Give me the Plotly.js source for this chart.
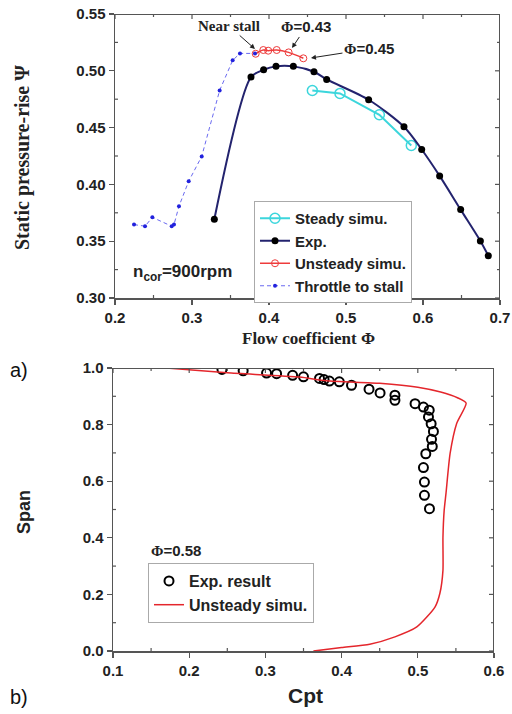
<!DOCTYPE html>
<html>
<head>
<meta charset="utf-8">
<script src="https://cdn.plot.ly/plotly-3.0.1.min.js"></script>
<style>html,body{margin:0;padding:0;background:#fff;}#chart{width:512px;height:714px;}</style>
</head>
<body>
<div id="chart"></div>
<script>
// ---- Data: plot a) ----
const throttlePhi = [0.2247, 0.239, 0.2485, 0.2736, 0.2766, 0.2831, 0.2957, 0.3126, 0.3359, 0.3528, 0.3623, 0.3818];
const throttlePsi = [0.3646, 0.3632, 0.371, 0.3632, 0.3646, 0.3808, 0.4028, 0.4246, 0.4827, 0.5092, 0.5153, 0.5153];

const expPhi = [0.329, 0.3766, 0.393, 0.4091, 0.4316, 0.4584, 0.4749, 0.5294, 0.5753, 0.5983, 0.6216, 0.6489, 0.6745, 0.6848];
const expPsi = [0.3693, 0.4945, 0.5009, 0.5039, 0.5039, 0.4992, 0.4924, 0.4745, 0.4507, 0.4307, 0.4075, 0.3778, 0.3502, 0.3373];

const steadyPhi = [0.4563, 0.4922, 0.5433, 0.5848];
const steadyPsi = [0.4827, 0.4801, 0.4613, 0.4342];

const unsteadyPhi = [0.3827, 0.3926, 0.399, 0.41, 0.4255, 0.4446];
const unsteadyPsi = [0.515, 0.5183, 0.5177, 0.5183, 0.5162, 0.511];

// ---- Data: plot b) ----
const expCpt = [0.243, 0.2708, 0.3015, 0.3147, 0.3357, 0.35, 0.371, 0.377, 0.384, 0.397, 0.413, 0.436, 0.4505, 0.470, 0.470, 0.4964, 0.5074, 0.515, 0.514, 0.5175, 0.5205, 0.518, 0.519, 0.5105, 0.5074, 0.5087, 0.5087, 0.5153];
const expSpan = [0.995, 0.99, 0.982, 0.980, 0.974, 0.969, 0.963, 0.959, 0.954, 0.951, 0.939, 0.925, 0.912, 0.904, 0.886, 0.874, 0.862, 0.851, 0.827, 0.803, 0.776, 0.748, 0.723, 0.697, 0.648, 0.597, 0.550, 0.503];

const simCpt = [0.17, 0.25, 0.345, 0.38, 0.45, 0.50, 0.53, 0.552, 0.5634, 0.551, 0.5424, 0.537, 0.5346, 0.533, 0.533, 0.529, 0.5225, 0.4987, 0.47, 0.437, 0.40, 0.363];
const simSpan = [1.0, 0.983, 0.968, 0.955, 0.946, 0.932, 0.915, 0.895, 0.876, 0.804, 0.698, 0.557, 0.497, 0.40, 0.285, 0.204, 0.155, 0.085, 0.05, 0.024, 0.012, 0.0];

const xTicksA = [0.2, 0.3, 0.4, 0.5, 0.6, 0.7];
const yTicksA = [0.30, 0.35, 0.40, 0.45, 0.50, 0.55];
const xTicksB = [0.1, 0.2, 0.3, 0.4, 0.5, 0.6];
const yTicksB = [0.0, 0.2, 0.4, 0.6, 0.8, 1.0];

// annotation targets (flow coefficient, pressure rise)
const nearStall = [0.3818, 0.5192];
const phi043 = [0.4299, 0.5201];
const phi045 = [0.4545, 0.5113];

const SANS = 'Liberation Sans, Arial, sans-serif';
const SERIF = 'Liberation Serif, Times New Roman, serif';
const AXC = '#555555';

const first = a => a[0], last = a => a[a.length - 1];

// top/right frame edges plus tick marks, built from the tick arrays and drawn through the axes
function frameTraces(xa, ya, xt, yt, wPx, hPx) {
  const x0 = first(xt), x1 = last(xt), y0 = first(yt), y1 = last(yt);
  const dx = (x1 - x0) / wPx, dy = (y1 - y0) / hPx;
  const fx = [], fy = [];
  const seg = (ax, ay, bx, by) => { fx.push(ax, bx, null); fy.push(ay, by, null); };
  xt.forEach(v => seg(v, y1, v, y1 - 5 * dy));
  yt.forEach(v => seg(x1, v, x1 - 5 * dx, v));
  for (let i = 0; i + 1 < xt.length; i++) {
    const m = (xt[i] + xt[i + 1]) / 2;
    seg(m, y1, m, y1 - 3 * dy);
    seg(m, y0, m, y0 + 3 * dy);
  }
  for (let i = 0; i + 1 < yt.length; i++) {
    const m = (yt[i] + yt[i + 1]) / 2;
    seg(x1, m, x1 - 3 * dx, m);
    seg(x0, m, x0 + 3 * dx, m);
  }
  return [
    {x: [x0, x1, x1], y: [y1, y1, y0], xaxis: xa, yaxis: ya, mode: 'lines', cliponaxis: false,
     line: {color: AXC, width: 2}, showlegend: false, hoverinfo: 'skip'},
    {x: fx, y: fy, xaxis: xa, yaxis: ya, mode: 'lines', connectgaps: false, cliponaxis: false,
     line: {color: AXC, width: 1.2}, showlegend: false, hoverinfo: 'skip'}
  ];
}

const traces = [
  {x: steadyPhi, y: steadyPsi, name: 'Steady simu.', mode: 'lines+markers', xaxis: 'x', yaxis: 'y',
   line: {color: '#3cd6dc', width: 2}, marker: {symbol: 'circle-open', size: 10, color: '#3cd6dc', line: {width: 1.5, color: '#3cd6dc'}}},
  {x: expPhi, y: expPsi, name: 'Exp.', mode: 'lines+markers', xaxis: 'x', yaxis: 'y',
   line: {color: '#23236e', width: 2, shape: 'spline', smoothing: 0.8}, marker: {symbol: 'circle', size: 7, color: '#000000'}},
  {x: unsteadyPhi, y: unsteadyPsi, name: 'Unsteady simu.', mode: 'lines+markers', xaxis: 'x', yaxis: 'y',
   line: {color: '#ee3b3b', width: 1.5, shape: 'spline'}, marker: {symbol: 'circle-open', size: 7, color: '#ee3b3b', line: {width: 1, color: '#ee3b3b'}}},
  {x: throttlePhi, y: throttlePsi, name: 'Throttle to stall', mode: 'lines+markers', xaxis: 'x', yaxis: 'y',
   line: {color: '#6a6af0', width: 1, dash: '4px,3px'}, marker: {symbol: 'circle', size: 4, color: '#2222dd'}},
  {x: expCpt, y: expSpan, name: 'Exp. result', mode: 'markers', xaxis: 'x2', yaxis: 'y2', legend: 'legend2',
   marker: {symbol: 'circle-open', size: 9, color: '#000000', line: {width: 2, color: '#000000'}}},
  {x: simCpt, y: simSpan, name: 'Unsteady simu.', mode: 'lines', xaxis: 'x2', yaxis: 'y2', legend: 'legend2',
   line: {color: '#e4262c', width: 1.5, shape: 'spline', smoothing: 0.6}}
].concat(frameTraces('x', 'y', xTicksA, yTicksA, 385, 284), frameTraces('x2', 'y2', xTicksB, yTicksB, 381, 283));

function mainAxis(domain, tickvals, fmt, anchor) {
  return {domain: domain, range: [first(tickvals), last(tickvals)], tickmode: 'array', tickvals: tickvals,
    tickformat: fmt, anchor: anchor,
    showgrid: false, zeroline: false, showline: true, linecolor: AXC, linewidth: 1.5,
    ticks: 'outside', ticklen: 5, tickwidth: 1.2, tickcolor: AXC,
    tickfont: {family: SANS, size: 15, color: '#222', weight: 'bold'}, fixedrange: true};
}

const W = 512, H = 714;
const px = v => v / W, py = v => 1 - v / H;

const dAx = [px(115), px(500)], dAy = [py(298), py(14)];
const dBx = [px(113), px(494)], dBy = [py(651), py(368)];

function label(x, y, text, font, extra) {
  return Object.assign({xref: 'paper', yref: 'paper', x: px(x), y: py(y), text: text, showarrow: false,
    xanchor: 'center', yanchor: 'middle', font: font}, extra || {});
}
function arrowNote(target, ax, ay, text, font) {
  return {xref: 'x', yref: 'y', x: target[0], y: target[1], ax: ax, ay: ay, text: text, showarrow: true,
    arrowhead: 2, arrowsize: 1, arrowwidth: 1, arrowcolor: '#222', standoff: 0,
    xanchor: 'center', yanchor: 'middle', font: font};
}
const bold = (fam, size) => ({family: fam, size: size, color: '#222', weight: 'bold'});
const PHI = '<span style="font-family:Liberation Serif">Φ</span>';

const layout = {
  width: W, height: H, margin: {l: 0, r: 0, t: 0, b: 0},
  paper_bgcolor: '#fff', plot_bgcolor: '#fff', showlegend: true,
  xaxis: mainAxis(dAx, xTicksA, '.1f', 'y'),
  yaxis: mainAxis(dAy, yTicksA, '.2f', 'x'),
  xaxis2: mainAxis(dBx, xTicksB, '.1f', 'y2'),
  yaxis2: mainAxis(dBy, yTicksB, '.1f', 'x2'),
  legend: {x: px(254), y: py(201), xanchor: 'left', yanchor: 'top', bgcolor: '#fff',
    bordercolor: '#aaaaaa', borderwidth: 1, tracegroupgap: 0, itemwidth: 30,
    font: bold(SANS, 15)},
  legend2: {x: px(148), y: py(563), xanchor: 'left', yanchor: 'top', bgcolor: '#fff',
    bordercolor: '#aaaaaa', borderwidth: 1, itemwidth: 30,
    font: bold(SANS, 16)},
  annotations: [
    arrowNote(nearStall, -26, -23, 'Near stall', bold(SERIF, 15)),
    arrowNote(phi043, 14, -21, PHI + '=0.43', bold(SANS, 15)),
    arrowNote(phi045, 58, -9, PHI + '=0.45', bold(SANS, 15)),
    label(131, 273, 'n<sub>cor</sub>=900rpm', bold(SANS, 17), {xanchor: 'left'}),
    label(308, 338, 'Flow coefficient Φ', bold(SERIF, 17)),
    label(22, 158, 'Static pressure-rise Ψ', bold(SERIF, 20), {textangle: -90}),
    label(8, 370, 'a)', {family: SANS, size: 20, color: '#111'}, {xanchor: 'left'}),
    label(149, 550, PHI + '=0.58', bold(SANS, 15), {xanchor: 'left'}),
    label(305, 695, 'Cpt', bold(SANS, 21)),
    label(24, 512, 'Span', bold(SANS, 18), {textangle: -90}),
    label(8, 697, 'b)', {family: SANS, size: 20, color: '#111'}, {xanchor: 'left'})
  ]
};

Plotly.newPlot('chart', traces, layout, {staticPlot: true, displayModeBar: false});
</script>
</body>
</html>
